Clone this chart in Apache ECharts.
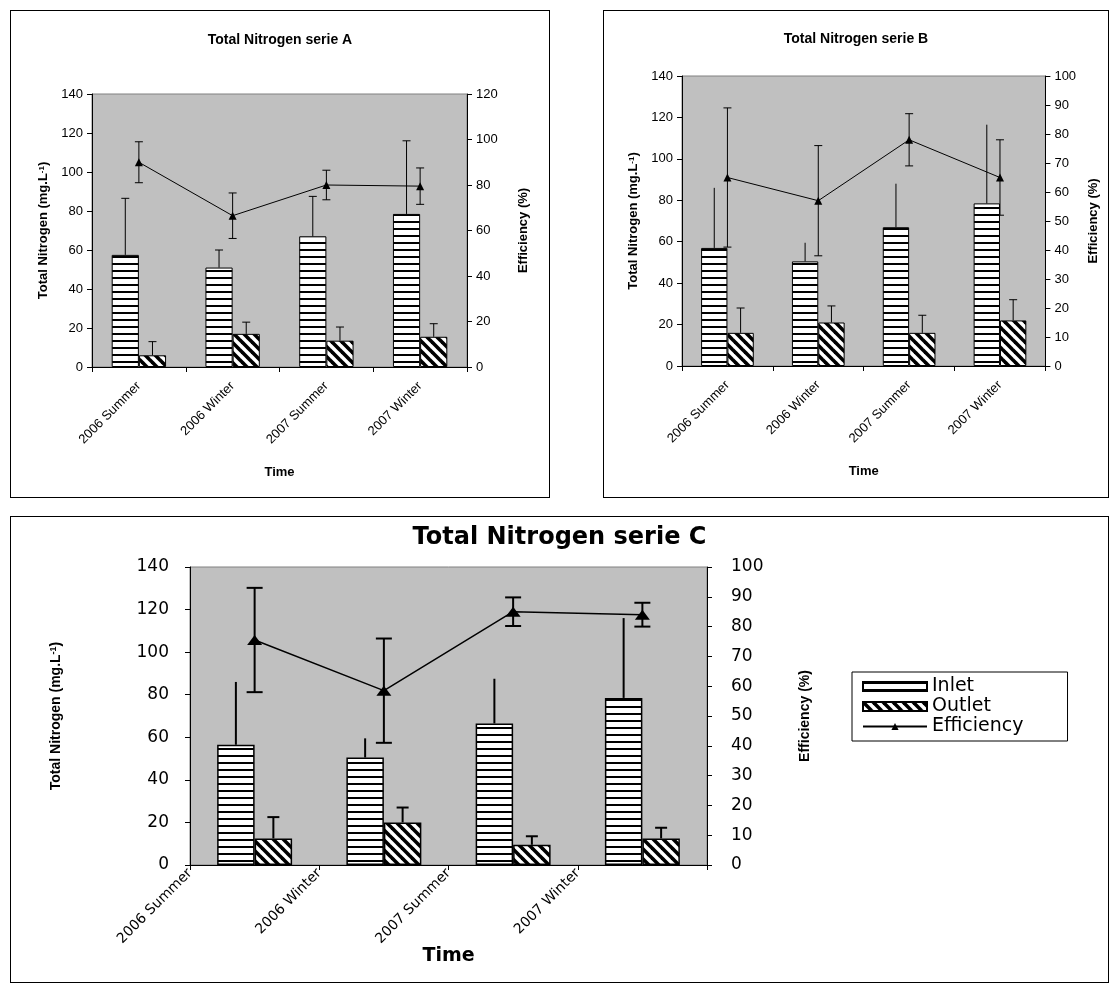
<!DOCTYPE html>
<html>
<head>
<meta charset="utf-8">
<script src="https://cdn.jsdelivr.net/npm/echarts@6/dist/echarts.min.js"></script>
<style>
  html, body { margin: 0; padding: 0; background: #fff; }
  body { width: 1118px; height: 992px; position: relative; overflow: hidden; }
  .panel { position: absolute; border: 1px solid #000; background: #fff; }
</style>
</head>
<body>
<div id="pa" class="panel" style="left:10px;top:10px;width:538px;height:486px;"></div>
<div id="pb" class="panel" style="left:603px;top:10px;width:504px;height:486px;"></div>
<div id="pc" class="panel" style="left:10px;top:516px;width:1097px;height:465px;"></div>
<script>
// ---------- DATA ----------
const categories = ['2006 Summer', '2006 Winter', '2007 Summer', '2007 Winter'];
const leftTicks = [0, 140, 20];       // min, max, interval (mg.L-1)
const rightTicksA = [0, 120, 20];     // efficiency axis, serie A
const rightTicksBC = [0, 100, 10];    // efficiency axis, series B and C

// Serie A
const inletA = [57.5, 51, 67, 78.5];
const inletErrA = [29, 9, 20.5, 37.5];
const outletA = [6, 17, 13.5, 15.5];
const outletErrA = [7, 6, 7, 6.7];
const effA = [90, 66.5, 80, 79.5];
const effErrA = [9, 10, 6.5, 8];

// Serie B
const inletB = [57, 50.5, 67, 78.5];
const inletErrB = [29, 9, 21, 38];
const outletB = [16, 21, 16, 22];
const outletErrB = [12, 8, 8.5, 10];
const effB = [65, 57, 78, 65];
const effErrB = [24, 19, 9, 13];

// Serie C
const inletC = [56.5, 50.5, 66.5, 78.5];
const inletErrC = [29.5, 9, 21, 37.5];
const outletC = [12.5, 20, 9.5, 12.5];
const outletErrC = [10, 7, 4, 5];
const effC = [75.5, 58.5, 85, 84];
const effErrC = [17.5, 17.5, 4.8, 4];

// ---------- PATTERNS ----------
function hStripe() {
  const c = document.createElement('canvas');
  c.width = 8; c.height = 7;
  const g = c.getContext('2d');
  g.fillStyle = '#fff'; g.fillRect(0, 0, 8, 7);
  g.fillStyle = '#000'; g.fillRect(0, 0, 8, 2);
  return c;
}
function dStripe() {
  const c = document.createElement('canvas');
  c.width = 10; c.height = 10;
  const g = c.getContext('2d');
  g.fillStyle = '#fff'; g.fillRect(0, 0, 10, 10);
  g.strokeStyle = '#000'; g.lineWidth = 3.6;
  for (const k of [-10, 0, 10]) {
    g.beginPath(); g.moveTo(k - 2, -2); g.lineTo(k + 12, 12); g.stroke();
  }
  return c;
}
const inletPattern = { image: hStripe(), repeat: 'repeat' };
const outletPattern = { image: dStripe(), repeat: 'repeat' };

// ---------- ERROR BAR RENDERERS ----------
function barErr(sign, frac, cap, lw) {
  return function (params, api) {
    const i = api.value(0), v = api.value(1), e = api.value(2);
    const b = api.coord([i, v]);
    const t = api.coord([i, v + e]);
    const x = b[0] + sign * api.size([1, 0])[0] * frac / 2;
    const st = { stroke: '#000', lineWidth: lw };
    const ch = [{ type: 'line', shape: { x1: x, y1: b[1], x2: x, y2: t[1] }, style: st }];
    if (cap) ch.push({ type: 'line', shape: { x1: x - cap, y1: t[1], x2: x + cap, y2: t[1] }, style: st });
    return { type: 'group', children: ch };
  };
}
function symErr(cap, lw) {
  return function (params, api) {
    const i = api.value(0), v = api.value(1), e = api.value(2);
    const t = api.coord([i, v + e]);
    const b = api.coord([i, v - e]);
    const x = t[0];
    const st = { stroke: '#000', lineWidth: lw };
    return {
      type: 'group', children: [
        { type: 'line', shape: { x1: x, y1: t[1], x2: x, y2: b[1] }, style: st },
        { type: 'line', shape: { x1: x - cap, y1: t[1], x2: x + cap, y2: t[1] }, style: st },
        { type: 'line', shape: { x1: x - cap, y1: b[1], x2: x + cap, y2: b[1] }, style: st }
      ]
    };
  };
}
function triples(vals, errs) { return vals.map((v, i) => [i, v, errs[i]]); }

// ---------- PANEL BUILDER ----------
function buildOption(p) {
  const font = p.font;
  const frac = 0.29;
  const yLeft = {
    type: 'value', min: leftTicks[0], max: leftTicks[1], interval: leftTicks[2],
    position: 'left',
    axisLine: { show: true, lineStyle: { color: '#000', width: 1 } },
    axisTick: { show: true, length: 5, lineStyle: { color: '#000' } },
    splitLine: { show: false },
    axisLabel: { color: '#000', fontFamily: font, fontSize: p.tickSize, margin: p.leftMargin },
    name: 'Total Nitrogen (mg.L{sup|-1})', nameLocation: 'middle', nameRotate: 90, nameGap: p.leftNameGap,
    nameTextStyle: {
      color: '#000', fontFamily: p.nameFont, fontSize: p.nameSize, fontWeight: 'bold',
      rich: { sup: { fontSize: Math.round(p.nameSize * 0.65), fontWeight: 'bold', fontFamily: p.nameFont, color: '#000', verticalAlign: 'top' } }
    }
  };
  const yRight = {
    type: 'value', min: p.right[0], max: p.right[1], interval: p.right[2],
    position: 'right',
    axisLine: { show: true, lineStyle: { color: '#000', width: 1 } },
    axisTick: { show: true, length: 5, lineStyle: { color: '#000' } },
    splitLine: { show: false },
    axisLabel: { color: '#000', fontFamily: font, fontSize: p.tickSize, margin: p.rightMargin },
    name: 'Efficiency (%)', nameLocation: 'middle', nameRotate: 90, nameGap: p.rightNameGap,
    nameTextStyle: { color: '#000', fontFamily: p.nameFont, fontSize: p.nameSize, fontWeight: 'bold' }
  };
  const xMain = {
    type: 'category', data: categories, position: 'bottom',
    axisLine: { show: true, onZero: false, lineStyle: { color: '#000', width: 1 } },
    axisTick: { show: true, length: 5, lineStyle: { color: '#000' } },
    axisLabel: p.shiftedLabels ? { show: false } : {
      show: true, rotate: 45, interval: 0, color: '#000', fontFamily: font, fontSize: p.xLabelSize, margin: p.xLabelMargin
    },
    name: 'Time', nameLocation: 'middle', nameGap: p.timeGap,
    nameTextStyle: { color: '#000', fontFamily: p.timeFont || p.nameFont, fontSize: p.timeSize, fontWeight: 'bold' }
  };
  const xAxes = [xMain];
  if (p.shiftedLabels) {
    xAxes.push({
      type: 'category', data: categories.concat(['']), boundaryGap: false, position: 'bottom',
      axisLine: { show: false }, axisTick: { show: false },
      axisLabel: { show: true, rotate: 45, interval: 0, color: '#000', fontFamily: font, fontSize: p.xLabelSize, margin: p.xLabelMargin }
    });
  }
  const opt = {
    animation: false,
    title: {
      text: p.title, left: 'center', top: p.titleTop, padding: p.titlePad || 0,
      textStyle: { color: '#000', fontFamily: p.titleFont, fontSize: p.titleSize, fontWeight: 'bold' }
    },
    grid: {
      left: p.grid[0], top: p.grid[1], width: p.grid[2], height: p.grid[3],
      show: true, backgroundColor: '#c0c0c0', borderColor: '#808080', borderWidth: 1
    },
    xAxis: xAxes,
    yAxis: [yLeft, yRight],
    series: [
      {
        name: 'Inlet', type: 'bar', xAxisIndex: 0, yAxisIndex: 0, data: p.inlet,
        barWidth: (frac * 100) + '%', barGap: '0%',
        itemStyle: { color: inletPattern, borderColor: '#000', borderWidth: p.barBorder }, z: 2
      },
      {
        name: 'Outlet', type: 'bar', xAxisIndex: 0, yAxisIndex: 0, data: p.outlet,
        barWidth: (frac * 100) + '%', barGap: '0%',
        itemStyle: { color: outletPattern, borderColor: '#000', borderWidth: p.barBorder }, z: 2
      },
      {
        name: 'InletErr', type: 'custom', xAxisIndex: 0, yAxisIndex: 0,
        data: triples(p.inlet, p.inletErr), encode: { x: 0, y: 1 },
        renderItem: barErr(-1, frac, p.inletCap, p.errWidth), z: 3, silent: true
      },
      {
        name: 'OutletErr', type: 'custom', xAxisIndex: 0, yAxisIndex: 0,
        data: triples(p.outlet, p.outletErr), encode: { x: 0, y: 1 },
        renderItem: barErr(1, frac, p.outletCap, p.errWidth), z: 3, silent: true
      },
      {
        name: 'Efficiency', type: 'line', xAxisIndex: 0, yAxisIndex: 1, data: p.eff,
        symbol: 'triangle', symbolSize: p.triSize, showSymbol: true,
        lineStyle: { color: '#000', width: p.lineWidth },
        itemStyle: { color: '#000', borderWidth: 0 }, z: 5
      },
      {
        name: 'EffErr', type: 'custom', xAxisIndex: 0, yAxisIndex: 1,
        data: triples(p.eff, p.effErr), encode: { x: 0, y: 1 },
        renderItem: symErr(p.effCap, p.errWidth), z: 4, silent: true
      }
    ]
  };
  if (p.legend) opt.legend = p.legend;
  return opt;
}

const arial = "'Liberation Sans', Arial, sans-serif";
const wide = "'DejaVu Sans', Verdana, sans-serif";

const panelA = {
  title: 'Total Nitrogen serie A', titleTop: 22, titleSize: 14, titleFont: arial,
  font: arial, nameFont: arial, tickSize: 13, nameSize: 13, timeSize: 13, xLabelSize: 13,
  grid: [81, 83, 375, 273], right: rightTicksA,
  leftMargin: 9, rightMargin: 9, leftNameGap: 36, rightNameGap: 50, xLabelMargin: 17, timeGap: 99,
  inlet: inletA, inletErr: inletErrA, outlet: outletA, outletErr: outletErrA, eff: effA, effErr: effErrA,
  inletCap: 4, outletCap: 4, effCap: 4, errWidth: 1, barBorder: 1, lineWidth: 1, triSize: [8, 8]
};
const panelB = {
  title: 'Total Nitrogen serie B', titleTop: 21, titleSize: 14, titleFont: arial,
  font: arial, nameFont: arial, tickSize: 13, nameSize: 13, timeSize: 13, xLabelSize: 13,
  grid: [78, 65, 383, 290], right: rightTicksBC,
  leftMargin: 9, rightMargin: 9, leftNameGap: 35, rightNameGap: 31, xLabelMargin: 17, timeGap: 99,
  inlet: inletB, inletErr: inletErrB, outlet: outletB, outletErr: outletErrB, eff: effB, effErr: effErrB,
  inletCap: 0, outletCap: 4, effCap: 4, errWidth: 1, barBorder: 1, lineWidth: 1, triSize: [8, 8]
};
const panelC = {
  title: 'Total Nitrogen serie C', titleTop: 9, titleSize: 24, titleFont: wide, titlePad: [0, 0, 0, 14],
  font: wide, nameFont: arial, timeFont: wide, tickSize: 17, nameSize: 14, timeSize: 19, xLabelSize: 14,
  grid: [179, 50, 517, 298], right: rightTicksBC,
  leftMargin: 21, rightMargin: 24, leftNameGap: 127, rightNameGap: 91, xLabelMargin: 6, timeGap: 82,
  shiftedLabels: true,
  inlet: inletC, inletErr: inletErrC, outlet: outletC, outletErr: outletErrC, eff: effC, effErr: effErrC,
  inletCap: 0, outletCap: 6, effCap: 8, errWidth: 2, barBorder: 1.5, lineWidth: 1.5, triSize: [15, 10],
  legend: {
    data: [
      { name: 'Inlet', icon: 'rect' },
      { name: 'Outlet', icon: 'rect' },
      { name: 'Efficiency' }
    ],
    orient: 'vertical', left: 841, top: 155,
    backgroundColor: '#fff', borderColor: '#000', borderWidth: 1, padding: [5, 44, 5, 10],
    itemWidth: 64, itemHeight: 9, itemGap: 1,
    textStyle: { color: '#000', fontFamily: wide, fontSize: 19 }
  }
};

echarts.init(document.getElementById('pa')).setOption(buildOption(panelA));
echarts.init(document.getElementById('pb')).setOption(buildOption(panelB));
echarts.init(document.getElementById('pc')).setOption(buildOption(panelC));
</script>
</body>
</html>
